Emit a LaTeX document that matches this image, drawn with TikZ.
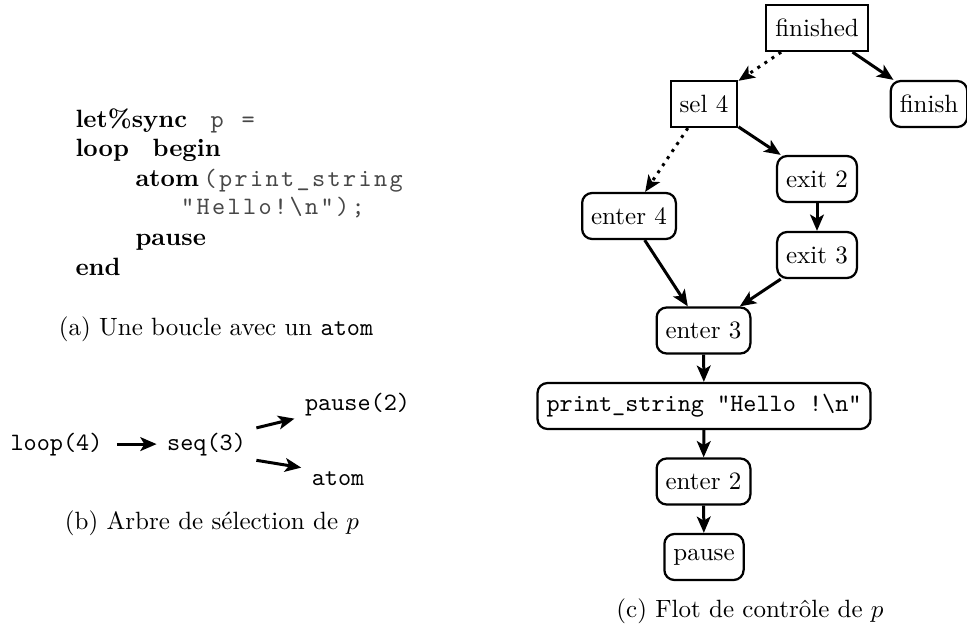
\documentclass[tikz,border=0pt]{standalone}
\usepackage{fontspec}
\usetikzlibrary{arrows.meta}
\ExplSyntaxOn
\cs_new_protected:Npn \fixcol #1
  { \tl_map_inline:nn {#1} { \makebox[6.2pt]{##1} } }
\ExplSyntaxOff
\newcommand\codett[1]{{\ttfamily\color{black!72}\fixcol{#1}}}
\begin{document}
\begin{tikzpicture}[x=0.4pt,y=-0.4pt,
  box/.style={draw, line width=0.9pt, minimum height=18.4pt, inner xsep=3.6pt, inner ysep=0pt},
  rbox/.style={box, rounded corners=4pt},
  arr/.style={-{Stealth[length=6.5pt,width=5.5pt,inset=1.6pt]}, line width=1.2pt},
  dotarr/.style={arr, dash pattern=on 1.2pt off 2.2pt},
  code/.style={anchor=base west, inner sep=0pt},
  tree/.style={anchor=base, inner sep=4pt, font=\ttfamily},
  capt/.style={anchor=base, inner sep=0pt}]
\useasboundingbox (0,0) rectangle (967,626);

% (a) code
\node[code] (c1) at (75,128) {\makebox[53.6pt][l]{\textbf{let\%sync}}\codett{p{\ }=}};
\node[code] (c2) at (75,157) {\makebox[30.8pt][l]{\textbf{loop}}\textbf{begin}};
\node[code] (c3) at (135,187) {\makebox[26.8pt][l]{\textbf{atom}}\codett{(print\_string}};
\node[code] (c4) at (179.5,215) {\codett{"Hello!\textbackslash n");}};
\node[code] (c5) at (135,245) {\textbf{pause}};
\node[code] (c6) at (75,275) {\textbf{end}};
\node[capt] (capa) at (216,335) {(a) Une boucle avec un \texttt{atom}};

% (b) tree
\node[tree] (loop) at (56.5,450) {loop(4)};
\node[tree] (seq) at (206.5,450) {seq(3)};
\node[tree] (ps) at (357.5,410) {pause(2)};
\node[tree] (atom) at (338,485) {atom};
\draw[arr, shorten <=1.6pt] (loop) -- (seq);
\draw[arr] (seq.18) -- (ps.193);
\draw[arr] (seq.-18) -- (atom.164);
\node[capt] (capb) at (212,529) {(b) Arbre de sélection de $p$};

% (c) flow
\node[box] (fin) at (817,28) {finished};
\node[box] (sel) at (704,104) {sel 4};
\node[rbox] (finish) at (929,104) {finish};
\node[rbox] (ex2) at (817,179) {exit 2};
\node[rbox] (en4) at (629,216) {enter 4};
\node[rbox] (ex3) at (817,255) {exit 3};
\node[rbox] (en3) at (703.5,330.5) {enter 3};
\node[rbox] (pr) at (704,406) {\ttfamily print\_string "Hello !\textbackslash n"};
\node[rbox] (en2) at (703.5,481.5) {enter 2};
\node[rbox] (pa) at (704,557) {pause};
\draw[dotarr] (fin) -- (sel);
\draw[arr] (fin) -- (finish);
\draw[dotarr] (sel) -- (en4);
\draw[arr] (sel) -- (ex2);
\draw[arr] (ex2) -- (ex3);
\draw[arr] (en4) -- (en3);
\draw[arr] (ex3) -- (en3);
\draw[arr] (en3) -- (pr);
\draw[arr] (pr) -- (en2);
\draw[arr] (en2) -- (pa);
\node[capt] (capc) at (750,617) {(c) Flot de contrôle de $p$};
\end{tikzpicture}
\end{document}
